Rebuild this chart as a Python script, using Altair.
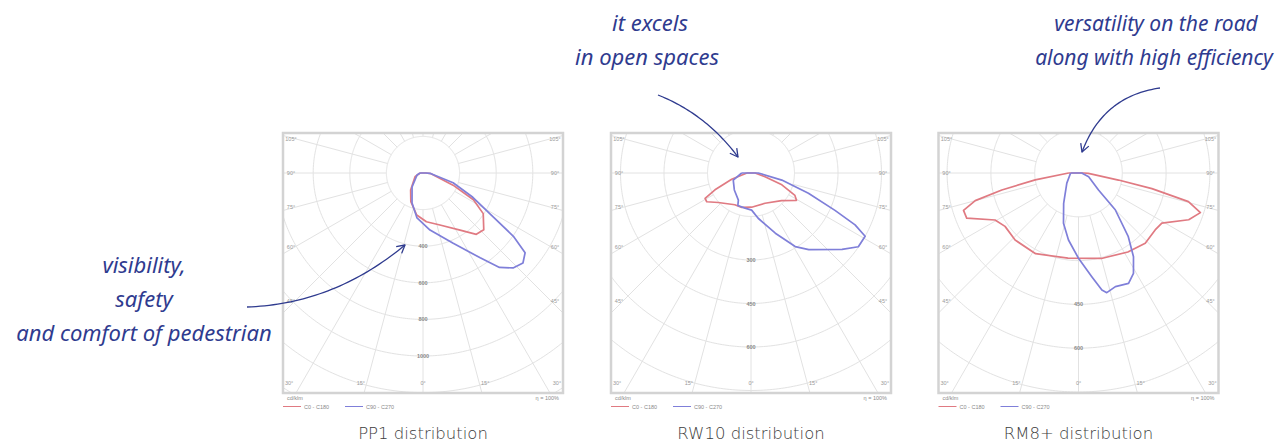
import altair as alt
import numpy as np
import pandas as pd

# ---------------- data ----------------
panel_names = ["PP1", "RW10", "RM8+"]
caption_texts = ["PP1 distribution", "RW10 distribution", "RM8+ distribution"]
ring_step = [200, 150, 150]                     # cd/klm per ring
ring_label_rings = [[2, 3, 4, 5], [2, 3, 4], [3, 4]]
side_angles = [105, 90, 75, 60, 45]
bottom_angles = [-30, -15, 0, 15, 30]
radial_angles = list(range(-165, 181, 15))
series_names = ["C0 - C180", "C90 - C270"]

pp1_c0_gamma = [-90, -65, -36, -23, -8.5, 4, 18, 33, 41, 47, 56, 62, 68, 85, 90]
pp1_c0_int = [16, 48, 115, 170, 232, 267, 299, 372, 444, 454, 397, 312, 177, 44, 16]
pp1_c90_gamma = [-90, -72, -38, -20, -7.6, 7, 23, 34, 39, 43.5, 48, 52, 55, 58, 64, 72, 87.5, 90]
pp1_c90_int = [16, 34, 97, 175, 248, 314, 416, 559, 664, 715, 735, 708, 603, 452, 303, 173, 38, 16]

rw10_c0_gamma = [-90, -72, -65, -61, -57, -48, -27, -15, 1, 25, 48, 59, 63, 69, 75, 90]
rw10_c0_int = [14, 70, 137, 181, 182, 152, 123, 123, 118, 115, 142, 183, 170, 114, 50, 14]
rw10_c90_gamma = [-90, -68, -44.5, -25, -22, -9.6, 1, 9, 22, 31, 37, 50, 55.5, 61, 63.5, 66, 70.5, 77, 90]
rw10_c90_int = [32, 66, 82, 103, 121, 123, 128, 158, 224, 296, 331, 410, 449, 450, 401, 317, 210, 109, 25]

rm8_c0_gamma = [-90, -81, -77.5, -75, -72, -68, -60.6, -54, -43.4, -28, -7, 15, 32, 43.5, 53.4, 59, 67, 72, 75.4, 78, 80, 88, 90]
rm8_c0_int = [34, 150, 269, 366, 414, 413, 328, 311, 316, 313, 294, 303, 319, 332, 327, 333, 410, 439, 389, 257, 139, 34, 20]
rm8_c90_gamma = [-90, -49, -26, -16.6, -8.5, 0, 7.3, 11.3, 13.3, 18, 24.4, 28.7, 33.3, 38, 45, 49.6, 70, 90]
rm8_c90_int = [27, 53, 116, 180, 232, 292, 358, 409, 421, 409, 415, 392, 343, 277, 178, 90, 37, 11]

annotation_lines = ["visibility,", "safety", "and comfort of pedestrian",
                    "it excels", "in open spaces",
                    "versatility on the road", "along with high efficiency"]

# ---------------- layout ----------------
W, H = 1271, 436
centre_x = [423, 751, 1078.5]
centre_y = 173
ring_px = [36.6, 43.5, 43.8]
BOX_L, BOX_T, BOX_B = 140, 40, 220
RED, BLUE = "#e07a82", "#7f7fd9"
INK = "#2f3b8f"
GRID = "#e2e2e2"

ann_x = [144, 144, 144, 650, 647, 1156, 1154]
ann_y = [273, 307, 341, 31, 65, 31, 65]
ann_size = [22, 22, 22, 22, 22, 21, 21]
arrow_ctrl = [((247, 307), (334, 304), (405, 245)),
              ((658, 95), (706, 114), (738, 157)),
              ((1160, 88), (1103, 96), (1082, 152))]

xs = alt.Scale(domain=[8, 8 + W], nice=False, zero=False)
ys = alt.Scale(domain=[8, 8 + H], nice=False, zero=False, reverse=True)
X = alt.X("px:Q", scale=xs, axis=None)
Y = alt.Y("py:Q", scale=ys, axis=None)
X2 = alt.X2("px2:Q")
Y2 = alt.Y2("py2:Q")

# ---------------- tables ----------------
curve_sets = [
    [(pp1_c0_gamma, pp1_c0_int), (pp1_c90_gamma, pp1_c90_int)],
    [(rw10_c0_gamma, rw10_c0_int), (rw10_c90_gamma, rw10_c90_int)],
    [(rm8_c0_gamma, rm8_c0_int), (rm8_c90_gamma, rm8_c90_int)],
]
rows = []
for p, sets in enumerate(curve_sets):
    for s, (g, I) in enumerate(sets):
        gg = list(g) + [g[0]]
        ii = list(I) + [I[0]]
        for idx, (a, v) in enumerate(zip(gg, ii)):
            rows.append(dict(panel=panel_names[p], series=series_names[s], idx=idx,
                             gamma=a, I=v, cx=centre_x[p], cy=centre_y,
                             rp=ring_px[p], step=ring_step[p]))
curves = pd.DataFrame(rows)

# grid rings, split into the arcs that lie inside each frame
ring_rows = []
phi_all = np.round(np.arange(-180, 180.0001, 0.1), 2)
for p in range(3):
    for k in range(1, 8):
        r = k * ring_px[p]
        x = r * np.sin(np.radians(phi_all))
        y = r * np.cos(np.radians(phi_all))
        inside = (np.abs(x) <= BOX_L) & (y >= -BOX_T) & (y <= BOX_B)
        seg = -1
        i = 0
        n = len(phi_all)
        while i < n:
            if inside[i]:
                j = i
                while j + 1 < n and inside[j + 1]:
                    j += 1
                seg += 1
                keep = list(range(i, j + 1, 8))
                if keep[-1] != j:
                    keep.append(j)
                for q in keep:
                    ring_rows.append(dict(panel=panel_names[p], k=k, seg=seg,
                                          phi=float(phi_all[q]), cx=centre_x[p],
                                          cy=centre_y, rp=ring_px[p]))
                i = j + 1
            else:
                i += 1
rings = pd.DataFrame(ring_rows)

radials = pd.DataFrame([dict(panel=panel_names[p], g=a, cx=centre_x[p], cy=centre_y,
                             rp=ring_px[p]) for p in range(3) for a in radial_angles])

boxes = pd.DataFrame([dict(panel=panel_names[p], cx=centre_x[p], cy=centre_y) for p in range(3)])

side_lab = pd.DataFrame([dict(cx=centre_x[p], cy=centre_y, ang=a, side=sd, text=f"{a}°")
                         for p in range(3) for a in side_angles for sd in (-1, 1)])
bottom_lab = pd.DataFrame([dict(cx=centre_x[p], cy=centre_y, ang=a, text=f"{abs(a)}°")
                           for p in range(3) for a in bottom_angles])
ring_lab = pd.DataFrame([dict(cx=centre_x[p], cy=centre_y, rp=ring_px[p], k=k,
                              text=str(k * ring_step[p]))
                         for p in range(3) for k in ring_label_rings[p]])

legend_text = pd.DataFrame(
    [dict(cx=centre_x[p], dx=-136, py=398, text="cd/klm") for p in range(3)] +
    [dict(cx=centre_x[p], dx=-119, py=406.5, text=series_names[0]) for p in range(3)] +
    [dict(cx=centre_x[p], dx=-57, py=406.5, text=series_names[1]) for p in range(3)])
legend_right = pd.DataFrame([dict(cx=centre_x[p], dx=136, py=398, text="η = 100%") for p in range(3)])
legend_lines = pd.DataFrame(
    [dict(cx=centre_x[p], d1=-140, d2=-122, py=406.5, series=series_names[0]) for p in range(3)] +
    [dict(cx=centre_x[p], d1=-78, d2=-60, py=406.5, series=series_names[1]) for p in range(3)])

captions = pd.DataFrame(dict(px=centre_x, py=[438.5] * 3, text=caption_texts))
annotations = pd.DataFrame(dict(px=ann_x, py=ann_y, size=ann_size, text=annotation_lines))

arrow_rows = []
head_rows = []
for a, (P0, C, P2) in enumerate(arrow_ctrl):
    P0, C, P2 = np.array(P0, float), np.array(C, float), np.array(P2, float)
    for t in np.linspace(0, 1, 40):
        pt = (1 - t) ** 2 * P0 + 2 * (1 - t) * t * C + t ** 2 * P2
        arrow_rows.append(dict(arrow=a, t=t, px=pt[0], py=pt[1]))
    d = P2 - C
    d = d / np.linalg.norm(d)
    for h, ang in enumerate((0.5, -0.5)):
        rot = np.array([[np.cos(ang), -np.sin(ang)], [np.sin(ang), np.cos(ang)]])
        w = P2 - 9 * rot.dot(d)
        head_rows.append(dict(arrow=a, o=0 if h == 0 else 2, px=w[0], py=w[1]))
    head_rows.append(dict(arrow=a, o=1, px=P2[0], py=P2[1]))
arrows = pd.DataFrame(arrow_rows)
heads = pd.DataFrame(head_rows)

colour = alt.Color("series:N", scale=alt.Scale(domain=series_names, range=[RED, BLUE]), legend=None)

# ---------------- layers ----------------
ring_layer = alt.Chart(rings).transform_calculate(
    px="datum.cx + datum.k*datum.rp*sin(datum.phi*PI/180)",
    py="datum.cy + datum.k*datum.rp*cos(datum.phi*PI/180)",
).mark_line(color=GRID, strokeWidth=1).encode(
    x=X, y=Y, detail=["panel:N", "k:N", "seg:N"], order="phi:Q")

radial_layer = alt.Chart(radials).transform_calculate(
    sx="sin(datum.g*PI/180)", sy="cos(datum.g*PI/180)",
).transform_calculate(
    tx=f"abs(datum.sx) > 1e-9 ? {BOX_L}/abs(datum.sx) : 1e9",
    ty=f"datum.sy > 1e-9 ? {BOX_B}/datum.sy : (datum.sy < -1e-9 ? {BOX_T}/(-datum.sy) : 1e9)",
).transform_calculate(
    t="min(datum.tx, datum.ty)",
).transform_filter("datum.t > datum.rp").transform_calculate(
    px="datum.cx + datum.rp*datum.sx", py="datum.cy + datum.rp*datum.sy",
    px2="datum.cx + datum.t*datum.sx", py2="datum.cy + datum.t*datum.sy",
).mark_rule(color=GRID, strokeWidth=1).encode(x=X, y=Y, x2=X2, y2=Y2)

box_layer = alt.Chart(boxes).transform_calculate(
    px=f"datum.cx - {BOX_L}", px2=f"datum.cx + {BOX_L}",
    py=f"datum.cy - {BOX_T}", py2=f"datum.cy + {BOX_B}",
).mark_rect(fillOpacity=0, stroke="#d3d3d3", strokeWidth=2.5).encode(x=X, y=Y, x2=X2, y2=Y2)

tiny = dict(font="Liberation Sans", fontSize=5.5, color="#9a9a9a", baseline="middle")
side_layer = alt.Chart(side_lab).transform_calculate(
    px="datum.cx + datum.side*132",
    py="datum.cy + 128/tan(datum.ang*PI/180)",
).mark_text(align="center", **tiny).encode(x=X, y=Y, text="text:N")
bottom_layer = alt.Chart(bottom_lab).transform_calculate(
    px="datum.cx + 232*tan(datum.ang*PI/180)",
    py="datum.cy + 210",
).mark_text(align="center", **tiny).encode(x=X, y=Y, text="text:N")
ringlab_layer = alt.Chart(ring_lab).transform_calculate(
    px="datum.cx", py="datum.cy + datum.k*datum.rp",
).mark_text(align="center", font="Liberation Sans", fontSize=5.5, fontWeight="bold",
            color="#8a8a8a", baseline="middle").encode(x=X, y=Y, text="text:N")

legtext_layer = alt.Chart(legend_text).transform_calculate(
    px="datum.cx + datum.dx",
).mark_text(align="left", font="Liberation Sans", fontSize=5.5, color="#8a8a8a",
            baseline="middle").encode(x=X, y=Y, text="text:N")
legright_layer = alt.Chart(legend_right).transform_calculate(
    px="datum.cx + datum.dx",
).mark_text(align="right", font="Liberation Sans", fontSize=5.5, color="#8a8a8a",
            baseline="middle").encode(x=X, y=Y, text="text:N")
legline_layer = alt.Chart(legend_lines).transform_calculate(
    px="datum.cx + datum.d1", px2="datum.cx + datum.d2",
).mark_rule(strokeWidth=1).encode(x=X, x2=X2, y=Y, color=colour)

curve_layer = alt.Chart(curves).transform_calculate(
    r="datum.I / datum.step * datum.rp",
).transform_calculate(
    px="datum.cx + datum.r*sin(datum.gamma*PI/180)",
    py="datum.cy + datum.r*cos(datum.gamma*PI/180)",
).mark_line(strokeWidth=1.7, strokeJoin="round", interpolate="linear").encode(
    x=X, y=Y, color=colour, detail="panel:N", order="idx:Q")

caption_layer = alt.Chart(captions).mark_text(
    font="DejaVu Sans", fontSize=16.5, fontWeight=200, color="#3c3c3c", baseline="alphabetic",
    align="center").encode(x=X, y=Y, text="text:N")

ann_layer = alt.Chart(annotations).mark_text(
    font="Noto Sans", fontStyle="italic", color=INK,
    baseline="alphabetic", align="center").encode(
    x=X, y=Y, text="text:N", size=alt.Size("size:Q", scale=None, legend=None))

arrow_layer = alt.Chart(arrows).mark_line(color=INK, strokeWidth=1.3).encode(
    x=X, y=Y, detail="arrow:N", order="t:Q")
head_layer = alt.Chart(heads).mark_line(color=INK, strokeWidth=1.3, strokeJoin="round").encode(
    x=X, y=Y, detail="arrow:N", order="o:Q")

chart = alt.layer(
    ring_layer, radial_layer, box_layer, side_layer, bottom_layer, ringlab_layer,
    legline_layer, legtext_layer, legright_layer, curve_layer, caption_layer,
    ann_layer, arrow_layer, head_layer,
).properties(
    width=W, height=H, padding=0, autosize=alt.AutoSizeParams(type="none"),
    background="white",
).configure_view(stroke=None)

chart.save("out.html", embed_options={"renderer": "svg", "actions": False})
